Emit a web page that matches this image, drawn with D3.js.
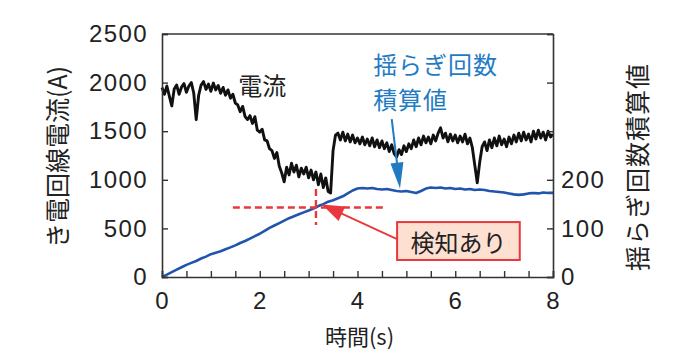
<!DOCTYPE html>
<html><head><meta charset="utf-8">
<script src="https://cdn.jsdelivr.net/npm/d3@7"></script>
<style>
html,body{margin:0;padding:0;background:#fff;}
svg text{fill:#222;}
.num{font-family:"Liberation Sans",Arial,sans-serif;font-size:24px;letter-spacing:1.4px;}
.jp{font-family:"Noto Sans CJK JP","Noto Sans",sans-serif;}
</style></head>
<body><svg id="c" width="680" height="358"></svg>
<script>
// ---- data ----
const xTickLabels = [0, 2, 4, 6, 8];
const leftTicks = [0, 500, 1000, 1500, 2000, 2500];
const rightTicks = [0, 100, 200, 300, 400, 500];
const rightTickLabels = [0, 100, 200];
const currentStep = 0.05; // s
const currentValues = [
 1950,1880,1965,1860,1760,1935,1975,1880,1955,1990,
 1900,1965,2000,1890,1620,1870,1975,2010,1930,1985,
 1910,1995,1925,1970,1890,1950,1870,1925,1840,1880,
 1790,1770,1700,1755,1650,1620,1660,1580,1650,1510,
 1490,1520,1410,1400,1320,1300,1220,1280,1140,1070,
 980,1130,1050,1170,1080,1150,1030,1120,1060,1130,
 1020,1100,1000,1080,950,1060,920,1020,880,865,
 1300,1460,1480,1410,1490,1400,1470,1390,1460,1380,
 1430,1370,1440,1360,1420,1350,1430,1340,1410,1330,
 1400,1320,1380,1290,1360,1270,1235,1310,1260,1350,
 1290,1370,1320,1410,1340,1430,1360,1450,1380,1440,
 1370,1460,1400,1480,1535,1430,1480,1390,1470,1400,
 1460,1380,1450,1390,1470,1370,1430,1330,1150,970,
 1180,1340,1390,1300,1410,1330,1430,1350,1450,1360,
 1420,1340,1440,1370,1460,1390,1480,1400,1490,1410,
 1470,1390,1500,1420,1510,1430,1490,1410,1500,1440,
 1470
];
const countStep = 0.1; // s
const countValues = [
 0,5,10,15,20,25,29,33,38,42,
 47,50,53,57,61,65,70,74,79,84,
 89,95,101,106,111,116,121,125,129,133,
 137,141,146,150,155,158,162,166,172,178,
 182,183,182,183,181,180,181,179,177,176,
 177,175,173,177,182,184,183,184,182,183,
 181,182,180,181,179,180,179,177,176,175,
 174,172,170,169,170,172,173,172,174,173,
 173
];
// annotation anchors (data units)
const detectT = 3.15, detectCount = 143;
const crossH = [1.45, 4.55];      // time extent of horizontal dashed line
const crossV = [181, 107];        // count extent of vertical dashed line
const blueArrow = {t0: 4.7, c0: 325, t1: 4.87, c1: 182};
const boxT = [4.81, 7.32], boxC = [113, 35];

// ---- scales ----
const svg = d3.select("#c");
const L = 162, R = 553, T = 34, B = 277;
const x = d3.scaleLinear([0, 8], [L, R]);
const yL = d3.scaleLinear([0, 2500], [B, T]);
const yR = d3.scaleLinear([0, 500], [B, T]);

// ---- lines ----
const curData = currentValues.map((v, i) => [i * currentStep, v]);
const cntData = countValues.map((v, i) => [i * countStep, v]);

svg.append("path").datum(cntData)
  .attr("d", d3.line().x(d => x(d[0])).y(d => yR(d[1])))
  .attr("fill", "none").attr("stroke", "#2154ad").attr("stroke-width", 2.6)
  .attr("stroke-linejoin", "round");

svg.append("path").datum(curData)
  .attr("d", d3.line().x(d => x(d[0])).y(d => yL(d[1])))
  .attr("fill", "none").attr("stroke", "#111").attr("stroke-width", 2.9)
  .attr("stroke-linejoin", "round");

// ---- axes ----
const axisCol = "#333";
const gB = svg.append("g").attr("transform", `translate(0,${B})`)
  .call(d3.axisBottom(x).tickValues(d3.range(0, 8.01, 0.5)).tickSize(-6).tickPadding(15)
    .tickFormat(d => xTickLabels.includes(d) ? d : ""));
const gL = svg.append("g").attr("transform", `translate(${L},0)`)
  .call(d3.axisLeft(yL).tickValues(leftTicks).tickSize(-6).tickPadding(14).tickFormat(d3.format("d")));
const gR = svg.append("g").attr("transform", `translate(${R},0)`)
  .call(d3.axisRight(yR).tickValues(rightTicks).tickSize(-6).tickPadding(8)
    .tickFormat(d => rightTickLabels.includes(d) ? d : ""));
[gB, gL, gR].forEach(g => {
  g.selectAll(".domain").attr("stroke", axisCol).attr("stroke-width", 1.6);
  g.selectAll(".tick line").attr("stroke", axisCol).attr("stroke-width", 1.4);
  g.selectAll("text").attr("class", "num").attr("font-family", null).attr("font-size", null).attr("fill", "#222");
});
svg.append("line").attr("x1", L).attr("x2", R).attr("y1", T).attr("y2", T)
  .attr("stroke", axisCol).attr("stroke-width", 1.6);

// ---- titles ----
svg.append("text").attr("class", "jp").attr("x", (L + R) / 2 + 2).attr("y", 345)
  .attr("text-anchor", "middle").attr("font-size", 22).text("時間(s)");
svg.append("text").attr("class", "jp").attr("transform", "translate(56,157) rotate(-90)")
  .attr("text-anchor", "middle").attr("dominant-baseline", "central").attr("font-size", 25)
  .text("き電回線電流(A)");
svg.append("text").attr("class", "jp").attr("transform", "translate(636,167) rotate(-90)")
  .attr("text-anchor", "middle").attr("dominant-baseline", "central").attr("font-size", 25)
  .attr("letter-spacing", 1).text("揺らぎ回数積算値");

// ---- annotations ----
svg.append("text").attr("class", "jp").attr("x", x(1.56)).attr("y", 95)
  .attr("font-size", 24).text("電流");
const blue = "#1f7cc4";
svg.append("text").attr("class", "jp").attr("font-size", 24).attr("letter-spacing", 1)
  .style("fill", blue).attr("x", x(4.32)).attr("y", 74).text("揺らぎ回数");
svg.append("text").attr("class", "jp").attr("font-size", 24).attr("letter-spacing", 1)
  .style("fill", blue).attr("x", x(4.32)).attr("y", 109).text("積算値");

function arrow(x0, y0, x1, y1, col, headLen, headW, w) {
  const dx = x1 - x0, dy = y1 - y0, len = Math.hypot(dx, dy);
  const ux = dx / len, uy = dy / len;
  const bx = x1 - ux * headLen, by = y1 - uy * headLen;
  svg.append("line").attr("x1", x0).attr("y1", y0).attr("x2", bx + ux * 2).attr("y2", by + uy * 2)
    .attr("stroke", col).attr("stroke-width", w);
  svg.append("path").attr("d", `M${x1},${y1}L${bx - uy * headW / 2},${by + ux * headW / 2}L${bx + uy * headW / 2},${by - ux * headW / 2}Z`)
    .attr("fill", col);
}
arrow(x(blueArrow.t0), yR(blueArrow.c0), x(blueArrow.t1), yR(blueArrow.c1), blue, 26, 13, 2);

const red = "#e8383d";
svg.append("line").attr("x1", x(crossH[0])).attr("x2", x(crossH[1]))
  .attr("y1", yR(detectCount)).attr("y2", yR(detectCount))
  .attr("stroke", red).attr("stroke-width", 2.4).attr("stroke-dasharray", "7,4");
svg.append("line").attr("x1", x(detectT)).attr("x2", x(detectT))
  .attr("y1", yR(crossV[0])).attr("y2", yR(crossV[1]))
  .attr("stroke", red).attr("stroke-width", 2.4).attr("stroke-dasharray", "7,4");

svg.append("rect").attr("x", x(boxT[0])).attr("y", yR(boxC[0]))
  .attr("width", x(boxT[1]) - x(boxT[0])).attr("height", yR(boxC[1]) - yR(boxC[0]))
  .attr("fill", "#fde0d2").attr("stroke", red).attr("stroke-width", 2);
svg.append("text").attr("class", "jp").attr("x", (x(boxT[0]) + x(boxT[1])) / 2)
  .attr("y", (yR(boxC[0]) + yR(boxC[1])) / 2).attr("text-anchor", "middle")
  .attr("dominant-baseline", "central").attr("font-size", 24).text("検知あり");
arrow(x(boxT[0]), yR(78), x(detectT) + 6, yR(detectCount) - 3, red, 22, 16, 1.8);
</script></body></html>
